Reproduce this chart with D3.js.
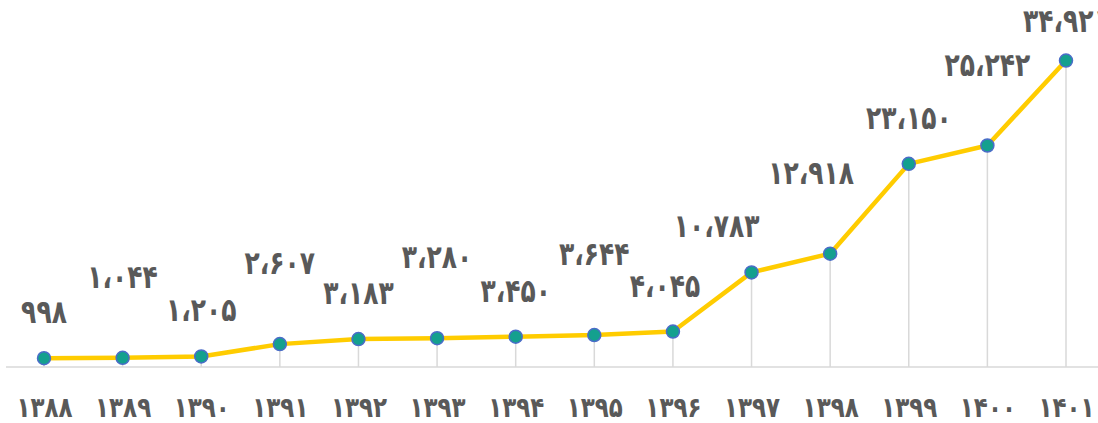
<!DOCTYPE html>
<html lang="fa">
<head>
<meta charset="utf-8">
<script src="https://cdn.jsdelivr.net/npm/d3@7/dist/d3.min.js"></script>
<style>
  html, body { margin: 0; padding: 0; background: #ffffff; overflow: hidden; }
  svg { display: block; }
  text { font-family: "DejaVu Sans", sans-serif; font-weight: bold; fill: #595959; }
</style>
</head>
<body>
<svg id="chart" width="1098" height="423"></svg>
<script>
// Years (Solar Hijri)
const years = ["1388", "1389", "1390", "1391", "1392", "1393", "1394",
               "1395", "1396", "1397", "1398", "1399", "1400", "1401"];
// Values for each year
const values = [998, 1044, 1205, 2607, 3183, 3280, 3450,
                3644, 4045, 10783, 12918, 23150, 25242, 34921];
// Value axis extent
const yDomain = [0, 40000];

const W = 1098, H = 423;
const svg = d3.select("#chart");

// Persian digits with the Arabic comma as thousands separator
const fa = d3.formatLocale({
  decimal: "٫",
  thousands: "،",
  grouping: [3],
  currency: ["", ""],
  numerals: ["۰", "۱", "۲", "۳", "۴", "۵", "۶", "۷", "۸", "۹"]
});
const fmtValue = fa.format(",d");
const toFaDigits = s => s.replace(/\d/g, d => "۰۱۲۳۴۵۶۷۸۹"[+d]);

const x = d3.scalePoint().domain(years).range([44, 1066]);
const y = d3.scaleLinear().domain(yDomain).range([367, 16]);

const data = years.map((yr, i) => ({ year: yr, value: values[i], i }));

// the digit glyphs are drawn a little taller than the font's own proportions
const tickStretch = 1.22;
const labelStretch = 1.3;

// category axis along the baseline
const axis = d3.axisBottom(x)
  .tickSize(0)
  .tickPadding(0)
  .tickFormat(toFaDigits);
const gx = svg.append("g")
  .attr("transform", `translate(0,${y(0)})`)
  .call(axis);
gx.select(".domain").remove();
gx.selectAll("text")
  .attr("font-size", 23)
  .attr("font-family", null)
  .attr("letter-spacing", 1.5)
  .attr("dy", 0)
  .attr("y", 50 / tickStretch)
  .attr("transform", `scale(1,${tickStretch})`)
  .style("fill", "#595959");
svg.append("line")
  .attr("x1", 6).attr("x2", W)
  .attr("y1", y(0)).attr("y2", y(0))
  .attr("stroke", "#d9d9d9").attr("stroke-width", 1.5);

// drop lines from each point to the baseline
svg.append("g").selectAll("line")
  .data(data)
  .join("line")
  .attr("x1", d => x(d.year)).attr("x2", d => x(d.year))
  .attr("y1", d => y(d.value)).attr("y2", y(0))
  .attr("stroke", "#d9d9d9").attr("stroke-width", 1.5);

// trend line
const line = d3.line().x(d => x(d.year)).y(d => y(d.value));
svg.append("path")
  .datum(data)
  .attr("d", line)
  .attr("fill", "none")
  .attr("stroke", "#ffcc00")
  .attr("stroke-width", 4.5)
  .attr("stroke-linejoin", "round");

// markers
svg.append("g").selectAll("circle")
  .data(data)
  .join("circle")
  .attr("cx", d => x(d.year))
  .attr("cy", d => y(d.value))
  .attr("r", 6.5)
  .attr("fill", "#14a08e")
  .attr("stroke", "#4a6cc8")
  .attr("stroke-width", 1.5);

// value labels sit on two tiers so neighbours do not collide;
// the labels beside the steep rise are pulled left off the line
const raised = new Set([1, 3, 5, 7, 10, 12]);
const nudgeX = { 8: -8, 9: -35, 10: -19 };
const labelBase = d => Math.max(32, y(d.value) - (raised.has(d.i) ? 70 : 35));
svg.append("g").selectAll("text")
  .data(data)
  .join("text")
  .attr("transform", d =>
    `translate(${x(d.year) + (nudgeX[d.i] || 0)},${labelBase(d)}) scale(1,${labelStretch})`)
  .attr("text-anchor", "middle")
  .attr("font-size", 25)
  .attr("letter-spacing", 2)
  .text(d => fmtValue(d.value));
</script>
</body>
</html>
